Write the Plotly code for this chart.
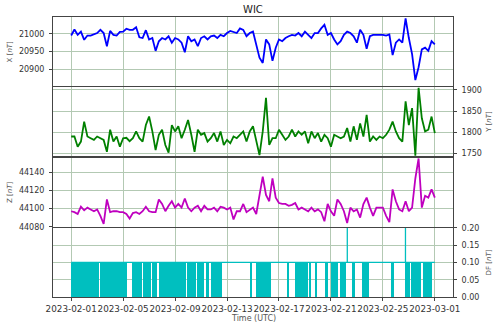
import pandas as pd
import plotly.graph_objects as go
from plotly.subplots import make_subplots

# 6-hourly samples, 2023-02-01 .. 2023-03-01
times = pd.date_range("2023-02-01", "2023-03-01", freq="6h")

x_nt = [20995, 21012, 20997, 21006, 20983, 20995, 20995, 20999,
        21002, 21011, 21002, 20965, 21008, 20997, 20995, 21005,
        21006, 21014, 21011, 21011, 21018, 20990, 20988, 21010,
        20984, 20988, 20952, 20979, 20988, 20984, 20993, 20975,
        20988, 20984, 20975, 20948, 20993, 20979, 20984, 20965,
        20988, 20993, 20984, 20993, 20995, 20988, 20997, 20993,
        21002, 21008, 21006, 21002, 21015, 21011, 20993, 21002,
        21006, 20965, 20933, 20918, 20984, 20970, 20924, 20961,
        20984, 20979, 20988, 20993, 20997, 20995, 21002, 20993,
        21006, 20997, 20988, 21002, 21002, 21015, 21025, 20997,
        21002, 20984, 20970, 20979, 20997, 21006, 21002, 20993,
        20975, 21011, 20997, 20958, 20993, 20997, 20998, 20997,
        20997, 20995, 20998, 20940, 20975, 20984, 20975, 21043,
        20988, 20943, 20870, 20906, 20956, 20961, 20952, 20979,
        20970]

y_nt = [1790, 1790, 1766, 1778, 1825, 1790, 1786, 1782,
        1790, 1786, 1782, 1754, 1806, 1778, 1790, 1766,
        1786, 1787, 1779, 1786, 1802, 1786, 1778, 1817,
        1837, 1802, 1758, 1794, 1806, 1770, 1752, 1817,
        1802, 1814, 1786, 1806, 1829, 1794, 1754, 1806,
        1794, 1798, 1778, 1786, 1798, 1778, 1802, 1770,
        1782, 1774, 1790, 1786, 1794, 1802, 1778, 1802,
        1814, 1782, 1746, 1802, 1881, 1770, 1786, 1786,
        1806, 1794, 1782, 1790, 1806, 1790, 1802, 1794,
        1802, 1774, 1802, 1786, 1798, 1778, 1794, 1786,
        1766, 1794, 1790, 1786, 1790, 1810, 1778, 1814,
        1782, 1821, 1790, 1841, 1778, 1790, 1782, 1790,
        1786, 1794, 1806, 1825, 1802, 1786, 1778, 1873,
        1817, 1857, 1745, 1905, 1833, 1802, 1806, 1837,
        1798]

z_nt = [44097, 44096, 44094, 44102, 44098, 44101, 44099, 44097,
        44099, 44092, 44083, 44110, 44096, 44097, 44097, 44096,
        44096, 44094, 44089, 44095, 44096, 44094, 44097, 44102,
        44097, 44096, 44096, 44110, 44105, 44097, 44103, 44108,
        44101, 44105, 44101, 44111, 44101, 44097, 44101, 44103,
        44097, 44103, 44099, 44099, 44101, 44097, 44102, 44101,
        44099, 44101, 44088, 44097, 44097, 44105, 44096, 44099,
        44101, 44094, 44115, 44135, 44115, 44108, 44133, 44112,
        44106, 44105, 44105, 44103, 44104, 44106, 44099, 44101,
        44099, 44097, 44101, 44097, 44099, 44096, 44086, 44105,
        44097, 44092, 44110, 44105, 44097, 44084, 44101, 44097,
        44099, 44090, 44105, 44112, 44101, 44092, 44101, 44101,
        44101, 44092, 44085, 44121, 44108, 44099, 44097, 44108,
        44097, 44101, 44133, 44155, 44101, 44114, 44112, 44121,
        44112]

# DF: days (after 2023-02-01) where it flickers between 0 and 0.1
df_on_start = [0.00, 2.26, 2.41, 4.67, 5.54, 6.26, 6.77, 8.95, 9.72, 10.36, 10.74, 13.77, 14.26,
               16.69, 17.21, 18.36, 18.82, 19.59, 19.97, 20.67, 21.69, 22.41, 24.62, 25.74, 26.18, 27.08]
df_on_end = [2.15, 2.31, 4.33, 5.44, 6.13, 6.64, 8.82, 9.59, 10.23, 10.62, 11.59, 13.85, 15.36,
             16.75, 18.26, 18.44, 18.95, 19.74, 20.54, 21.13, 21.82, 22.97, 24.85, 26.08, 26.97, 27.79]
df_level = 0.1
df_spike_days = [21.26, 25.74]
df_spike_vals = [0.2, 0.2]

x_ticks = pd.date_range("2023-02-01", "2023-03-01", freq="4D")

t0 = pd.Timestamp("2023-02-01")
day = pd.Timedelta(days=1)
x_range = [t0 - 1.4 * day, t0 + 29.4 * day]

fig = make_subplots(rows=4, cols=1, shared_xaxes=True, vertical_spacing=0.004)

fig.add_trace(go.Scatter(x=times, y=x_nt, mode="lines", line=dict(color="#0000ff", width=1.8)), row=1, col=1)
fig.add_trace(go.Scatter(x=times, y=y_nt, mode="lines", line=dict(color="#008000", width=1.8)), row=2, col=1)
fig.add_trace(go.Scatter(x=times, y=z_nt, mode="lines", line=dict(color="#bf00bf", width=1.8)), row=3, col=1)

# DF flicker blocks
mids = [t0 + (s + e) / 2 * day for s, e in zip(df_on_start, df_on_end)]
widths = [(e - s) * 86400000 for s, e in zip(df_on_start, df_on_end)]
fig.add_trace(go.Bar(x=mids, y=[df_level] * len(mids), width=widths, base=0,
                     marker=dict(color="#00bfbf", line=dict(width=0))), row=4, col=1)

# DF steady level with spikes
lx, ly = [t0], [df_level]
for d, v in zip(df_spike_days, df_spike_vals):
    lx += [t0 + d * day] * 3
    ly += [df_level, v, df_level]
lx.append(t0 + 28 * day)
ly.append(df_level)
fig.add_trace(go.Scatter(x=lx, y=ly, mode="lines", line=dict(color="#00bfbf", width=1.3)), row=4, col=1)

grid = "#b3c9b3"
spine = "#444444"
tick_font = dict(family="DejaVu Sans", size=8, color="#333333")
title_font = dict(family="DejaVu Sans", size=7, color="#555555")

for r in range(1, 5):
    fig.update_xaxes(row=r, col=1, type="date", range=x_range, tickvals=x_ticks, tickformat="%Y-%m-%d",
                     tickangle=0, showgrid=True, gridcolor=grid, gridwidth=1, showline=True,
                     linecolor=spine, linewidth=1, mirror=True, ticks="outside", ticklen=3,
                     tickcolor=spine, ticklabelstandoff=0,
                     tickfont=dict(family="DejaVu Sans", size=8.8, color="#333333"))

yax = dict(showgrid=True, gridcolor=grid, gridwidth=1, showline=True, linecolor=spine, linewidth=1,
           mirror=True, ticks="outside", ticklen=3, tickcolor=spine, tickfont=tick_font, zeroline=False,
           ticklabelstandoff=3)
fig.update_yaxes(row=1, col=1, range=[20853, 21047], tickvals=[20900, 20950, 21000], tickformat="d", **yax)
fig.update_yaxes(row=2, col=1, range=[1743, 1906], tickvals=[1750, 1800, 1850, 1900], tickformat="d",
                 side="right", **yax)
fig.update_yaxes(row=3, col=1, range=[44080, 44156], tickvals=[44080, 44100, 44120, 44140], tickformat="d", **yax)
fig.update_yaxes(row=4, col=1, range=[0, 0.2], tickvals=[0, 0.05, 0.1, 0.15, 0.2], tickformat=".2f",
                 side="right", **yax)

# axis titles as rotated annotations (read bottom-to-top on both sides, like matplotlib)
y_titles = ["X [<i>nT</i>]", "Y [<i>nT</i>]", "Z [<i>nT</i>]", "DF [<i>nT</i>]"]
title_x = [-0.108, 1.09, -0.108, 1.09]
for i, (txt, tx) in enumerate(zip(y_titles, title_x)):
    dom = fig.layout["yaxis" + ("" if i == 0 else str(i + 1))].domain
    fig.add_annotation(text=txt, xref="paper", yref="paper", x=tx, y=(dom[0] + dom[1]) / 2,
                       textangle=-90, showarrow=False, font=title_font, xanchor="center", yanchor="middle")

# title and x label
fig.add_annotation(text="WIC", xref="paper", yref="paper", x=0.5, y=1 + 8 / 280, showarrow=False,
                   font=dict(family="DejaVu Sans", size=10, color="#222222"), yanchor="middle")
fig.add_annotation(text="Time (UTC)", xref="paper", yref="paper", x=0.5, y=-21.5 / 280, showarrow=False,
                   font=dict(family="DejaVu Sans", size=8, color="#555555"), yanchor="middle")

fig.update_layout(
    width=500, height=325,
    margin=dict(l=53, r=47, t=17, b=28),
    plot_bgcolor="white", paper_bgcolor="white",
    showlegend=False, bargap=0,
)

# drop the default page margin so the 500x325 figure fills the window
fig.write_html("out.html", config={"displayModeBar": False},
               post_script="document.body.style.margin='0px';")
